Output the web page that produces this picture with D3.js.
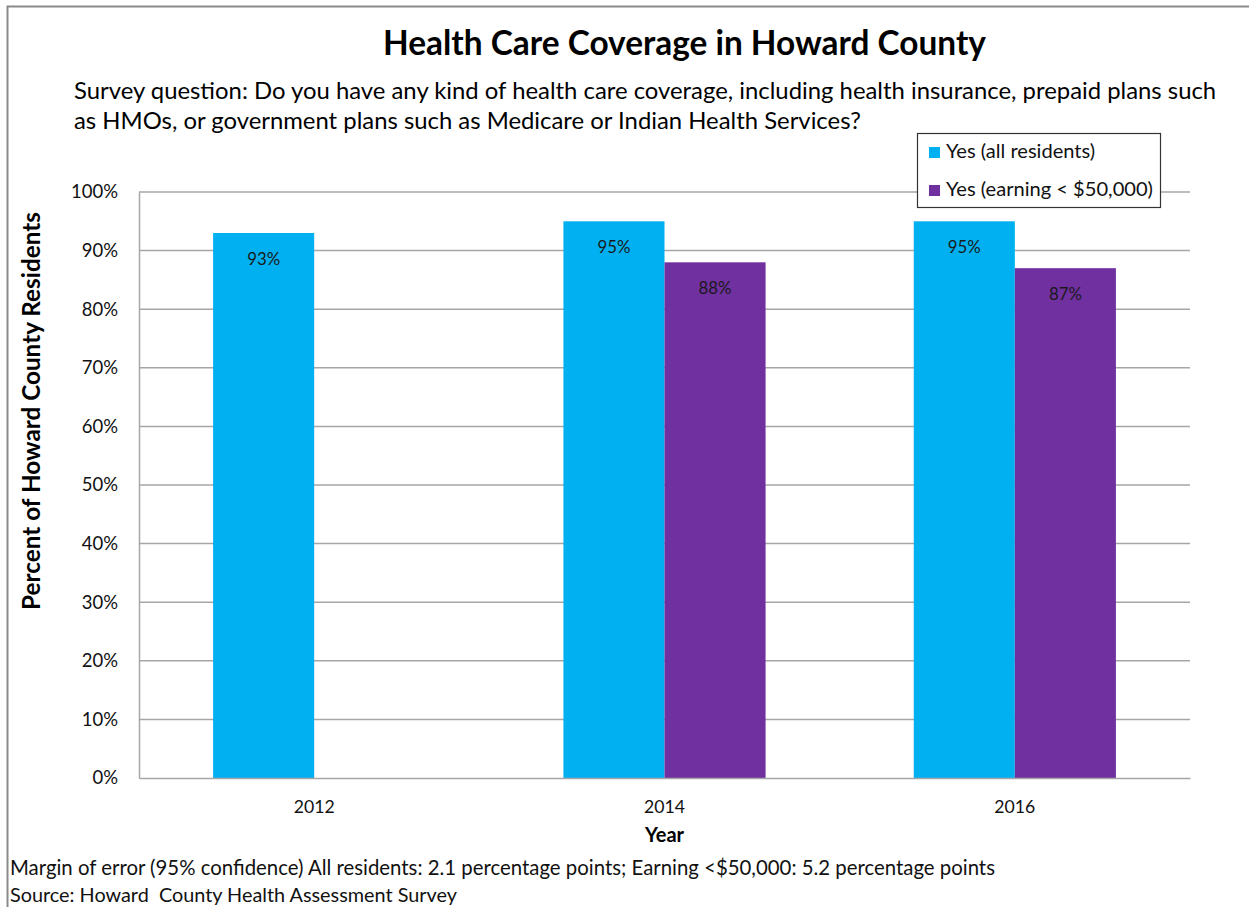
<!DOCTYPE html>
<html>
<head>
<meta charset="utf-8">
<script src="https://cdn.jsdelivr.net/npm/d3@7"></script>
<style>
  html, body { margin: 0; padding: 0; background: #fff; }
  svg { display: block; font-family: Lato, "Open Sans", sans-serif; }
</style>
</head>
<body>
<svg id="chart" width="1249" height="907"></svg>
<script>
const years = ["2012", "2014", "2016"];
const seriesNames = ["Yes (all residents)", "Yes (earning < $50,000)"];
const allResidents = [93, 95, 95];
const lowIncome = [null, 88, 87];
const yTicks = [0, 10, 20, 30, 40, 50, 60, 70, 80, 90, 100];
const colors = ["#00B0F0", "#7030A0"];
const titleText = "Health Care Coverage in Howard County";
const subtitleLines = [
  "Survey question: Do you have any kind of health care coverage, including health insurance, prepaid plans such",
  "as HMOs, or government plans such as Medicare or Indian Health Services?"
];
const yLabel = "Percent of Howard County Residents";
const xLabel = "Year";
const notes = [
  "Margin of error (95% confidence) All residents: 2.1 percentage points; Earning <$50,000: 5.2 percentage points",
  "Source: Howard  County Health Assessment Survey"
];

const svg = d3.select("#chart");

// fit a text element to a target width by adjusting font size; returns new size
function fit(sel, width) {
  const node = sel.node();
  const fs = parseFloat(sel.attr("font-size"));
  const w = node.getComputedTextLength();
  let nfs = fs;
  if (w > 0) nfs = +(fs * width / w).toFixed(2);
  sel.attr("font-size", nfs);
  return nfs;
}

// outer frame
svg.append("path").attr("d", "M7.5,907 L7.5,6.5 L1249,6.5")
  .attr("fill", "none").attr("stroke", "#8a8a8a").attr("stroke-width", 2);

const margin = { left: 139, right: 1190, top: 192, bottom: 778 };

const x0 = d3.scaleBand().domain(years).range([margin.left, margin.right])
  .paddingInner(0.423).paddingOuter(0.2115);
const x1 = d3.scaleBand().domain([0, 1]).range([0, x0.bandwidth()]);
const y = d3.scaleLinear().domain([0, 100]).range([margin.bottom, margin.top]);

// gridlines
svg.append("g").selectAll("line").data(yTicks.filter(d => d > 0)).join("line")
  .attr("x1", margin.left).attr("x2", margin.right)
  .attr("y1", d => y(d)).attr("y2", d => y(d))
  .attr("stroke", "#a6a6a6").attr("stroke-width", 1.5);

// y axis
const yAxis = svg.append("g").attr("transform", `translate(${margin.left},0)`)
  .call(d3.axisLeft(y).tickValues(yTicks).tickFormat(d => d + "%").tickSize(0).tickPadding(21));
yAxis.select(".domain").attr("stroke", "#a6a6a6").attr("stroke-width", 1.5);
yAxis.selectAll("text").attr("font-size", 16).attr("font-family", "Lato, sans-serif").attr("fill", "#111");
{
  const last = yAxis.selectAll("text").filter(d => d === 100);
  const fs = fit(last, 47);
  yAxis.selectAll("text").attr("font-size", fs);
}

// bars
const barData = [];
years.forEach((yr, i) => {
  [allResidents[i], lowIncome[i]].forEach((v, s) => {
    if (v != null) barData.push({ year: yr, s, v });
  });
});
svg.append("g").selectAll("rect").data(barData).join("rect")
  .attr("x", d => x0(d.year) + x1(d.s))
  .attr("y", d => y(d.v))
  .attr("width", x1.bandwidth())
  .attr("height", d => y(0) - y(d.v))
  .attr("fill", d => colors[d.s]);

const bl = svg.append("g").selectAll("text").data(barData).join("text")
  .attr("x", d => x0(d.year) + x1(d.s) + x1.bandwidth() / 2)
  .attr("y", d => y(d.v) + 32)
  .attr("text-anchor", "middle")
  .attr("font-size", 15)
  .attr("fill", "#1a1a1a")
  .text(d => d.v + "%");
{
  const fs = fit(d3.select(bl.nodes()[0]), 33);
  bl.attr("font-size", fs);
}

// x axis
const xAxis = svg.append("g").attr("transform", `translate(0,${margin.bottom})`)
  .call(d3.axisBottom(x0).tickSize(0).tickPadding(22));
xAxis.select(".domain").attr("stroke", "#a6a6a6").attr("stroke-width", 1.5);
xAxis.selectAll("text").attr("font-size", 16).attr("font-family", "Lato, sans-serif").attr("fill", "#111");
{
  const fs = fit(d3.select(xAxis.selectAll("text").nodes()[0]), 41);
  xAxis.selectAll("text").attr("font-size", fs);
}

// axis titles
svg.append("text").attr("x", x0("2014") + x0.bandwidth() / 2).attr("y", 842)
  .attr("text-anchor", "middle").attr("font-size", 20).attr("font-weight", "bold").text(xLabel);

const yl = svg.append("text").attr("transform", "translate(40,411) rotate(-90)")
  .attr("text-anchor", "middle").attr("font-size", 20).attr("font-weight", "bold").text(yLabel);
fit(yl, 398);

// title
const t = svg.append("text").attr("x", 684.5).attr("y", 55).attr("text-anchor", "middle")
  .attr("font-size", 30).attr("font-weight", "bold").text(titleText);
fit(t, 603);

// subtitle
const sl1 = svg.append("text").attr("x", 74).attr("y", 99).attr("font-size", 21).text(subtitleLines[0]);
fit(sl1, 1142);
svg.append("text").attr("x", 74).attr("y", 129).attr("font-size", sl1.attr("font-size")).text(subtitleLines[1]);

// legend
const lg = svg.append("g");
lg.append("rect").attr("x", 917.5).attr("y", 133.5).attr("width", 243).attr("height", 74)
  .attr("fill", "#fff").attr("stroke", "#333").attr("stroke-width", 1.2);
const legTexts = [];
seriesNames.forEach((name, i) => {
  const cy = 152 + i * 38;
  lg.append("rect").attr("x", 929).attr("y", cy - 5).attr("width", 11).attr("height", 11).attr("fill", colors[i]);
  legTexts.push(lg.append("text").attr("x", 946).attr("y", cy + 6).attr("font-size", 17).attr("fill", "#111").text(name));
});
{
  const fs = fit(legTexts[1], 207);
  legTexts[0].attr("font-size", fs);
}

// notes
const n1 = svg.append("text").attr("x", 10).attr("y", 875).attr("font-size", 17).attr("fill", "#111").text(notes[0]);
fit(n1, 985);
const n2 = svg.append("text").attr("x", 10).attr("y", 902).attr("font-size", 17).attr("fill", "#111")
  .style("white-space", "pre").text(notes[1]);
fit(n2, 447);
</script>
</body>
</html>
